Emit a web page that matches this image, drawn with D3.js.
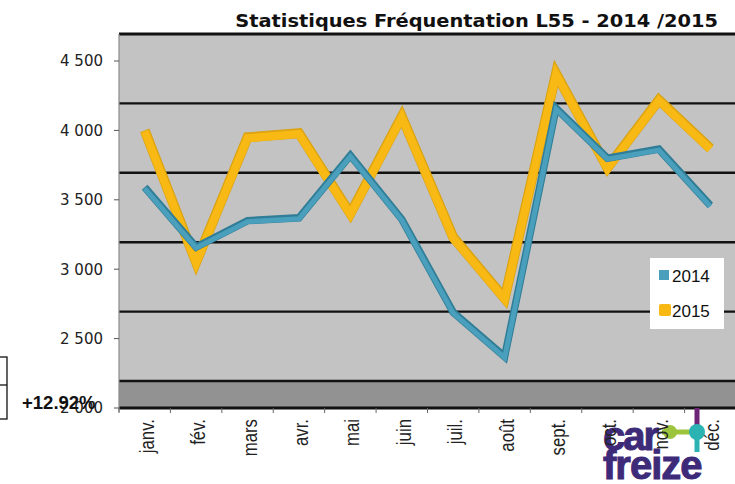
<!DOCTYPE html>
<html>
<head>
<meta charset="utf-8">
<script src="https://cdn.jsdelivr.net/npm/d3@7"></script>
<style>
  body { margin: 0; background: #fff; }
  svg { display: block; }
</style>
</head>
<body>
<svg id="chart" width="735" height="484"></svg>
<script>
var months = ["janv.", "fév.", "mars", "avr.", "mai", "juin", "juil.", "août", "sept.", "oct.", "nov.", "déc."];
var values2014 = [3590, 3160, 3350, 3370, 3820, 3360, 2690, 2370, 4160, 3800, 3865, 3460];
var values2015 = [4000, 3050, 3950, 3980, 3400, 4100, 3230, 2790, 4410, 3730, 4220, 3870];
var yTicks = [2000, 2500, 3000, 3500, 4000, 4500];
var seriesNames = ["2014", "2015"];

(function () {
    "use strict";
    var svg, x, y, depth, line, fr;

    svg = d3.select("#chart");
    fr = d3.formatLocale({decimal: ",", thousands: " ", grouping: [3], currency: ["", " €"]}).format(",d");

    x = d3.scaleBand().domain(months).range([119, 736]);
    y = d3.scaleLinear().domain([2000, 4500]).range([408, 61]);
    depth = 27; // back wall sits higher than the front axis (3d look)

    // back wall
    svg.append("rect")
        .attr("x", 119).attr("y", y(4500) - depth)
        .attr("width", 736 - 119).attr("height", y(2000) - y(4500) + depth)
        .attr("fill", "#c3c3c3");
    // floor
    svg.append("rect")
        .attr("x", 119).attr("y", y(2000) - depth)
        .attr("width", 736 - 119).attr("height", depth)
        .attr("fill", "#929292");

    svg.append("g").selectAll("line")
        .data(yTicks)
        .enter().append("line")
        .attr("x1", 119).attr("x2", 736)
        .attr("y1", function (d) { return y(d) - depth; })
        .attr("y2", function (d) { return y(d) - depth; })
        .attr("stroke", "#111")
        .attr("stroke-width", function (d) { return d === 4500 ? 3.2 : 2.4; });

    svg.append("line")
        .attr("x1", 119).attr("x2", 736)
        .attr("y1", y(2000)).attr("y2", y(2000))
        .attr("stroke", "#111").attr("stroke-width", 3);

    // left axis
    svg.append("line")
        .attr("x1", 119).attr("x2", 119)
        .attr("y1", y(4500) - depth).attr("y2", y(2000) + 4)
        .attr("stroke", "#8a8a8a").attr("stroke-width", 1.2);
    svg.append("g").selectAll("line")
        .data(yTicks)
        .enter().append("line")
        .attr("x1", 114).attr("x2", 119)
        .attr("y1", function (d) { return y(d); })
        .attr("y2", function (d) { return y(d); })
        .attr("stroke", "#555");
    svg.append("g").selectAll("text")
        .data(yTicks)
        .enter().append("text")
        .attr("x", 103)
        .attr("y", function (d) { return y(d); })
        .attr("dy", "0.36em")
        .attr("text-anchor", "end")
        .attr("font-family", "DejaVu Sans, Verdana, sans-serif")
        .attr("font-size", 15)
        .attr("fill", "#222")
        .text(function (d) { return fr(d); });

    // bottom ticks
    svg.append("g").selectAll("line")
        .data(months)
        .enter().append("line")
        .attr("x1", function (d) { return x(d); })
        .attr("x2", function (d) { return x(d); })
        .attr("y1", y(2000)).attr("y2", y(2000) + 5)
        .attr("stroke", "#666");

    // logo
    var logo = svg.append("g");
    logo.append("line").attr("x1", 697).attr("x2", 697).attr("y1", 408).attr("y2", 428)
        .attr("stroke", "#6d2477").attr("stroke-width", 5);
    logo.append("line").attr("x1", 697).attr("x2", 697).attr("y1", 432).attr("y2", 452)
        .attr("stroke", "#2bb3b3").attr("stroke-width", 5);
    logo.append("line").attr("x1", 662).attr("x2", 697).attr("y1", 432).attr("y2", 432)
        .attr("stroke", "#9cc43c").attr("stroke-width", 5);
    logo.append("circle").attr("cx", 670).attr("cy", 432).attr("r", 7).attr("fill", "#9cc43c");
    logo.append("circle").attr("cx", 697).attr("cy", 432).attr("r", 8).attr("fill", "#2bb3b3");
    logo.append("text").attr("x", 603).attr("y", 450)
        .attr("font-family", "Liberation Sans, Arial, sans-serif").attr("font-weight", "bold")
        .attr("font-size", 40).attr("letter-spacing", -2).attr("fill", "#3d2a78")
        .attr("stroke", "#3d2a78").attr("stroke-width", 1).text("car");
    logo.append("text").attr("x", 603).attr("y", 479)
        .attr("font-family", "Liberation Sans, Arial, sans-serif").attr("font-weight", "bold")
        .attr("font-size", 40).attr("letter-spacing", -1).attr("fill", "#3d2a78")
        .attr("stroke", "#3d2a78").attr("stroke-width", 1).text("freize");

    // month labels
    svg.append("g").selectAll("text")
        .data(months)
        .enter().append("text")
        .attr("transform", function (d) {
            return "translate(" + (x(d) + x.bandwidth() / 2 + 9) + ",419) rotate(-90) scale(0.84,1)";
        })
        .attr("text-anchor", "end")
        .attr("font-family", "Liberation Sans, Arial, sans-serif")
        .attr("font-size", 20)
        .attr("fill", "#222")
        .text(function (d) { return d; });

    // series
    line = d3.line()
        .x(function (d, i) { return x(months[i]) + x.bandwidth() / 2; })
        .y(function (d) { return y(d); })
        .curve(d3.curveLinear);

    svg.append("path").datum(values2015).attr("d", line)
        .attr("fill", "none").attr("stroke", "#dba30f").attr("stroke-width", 10)
        .attr("stroke-linejoin", "miter");
    svg.append("path").datum(values2015).attr("d", line)
        .attr("fill", "none").attr("stroke", "#f8b915").attr("stroke-width", 8)
        .attr("transform", "translate(0,0.8)");

    svg.append("path").datum(values2014).attr("d", line)
        .attr("fill", "none").attr("stroke", "#2f7d96").attr("stroke-width", 7.5);
    svg.append("path").datum(values2014).attr("d", line)
        .attr("fill", "none").attr("stroke", "#4a9fbc").attr("stroke-width", 5)
        .attr("transform", "translate(0,1)");

    // legend
    var legend = svg.append("g");
    legend.append("rect").attr("x", 650).attr("y", 258).attr("width", 74).attr("height", 71).attr("fill", "#fff");
    legend.selectAll("rect.key")
        .data(seriesNames)
        .enter().append("rect")
        .attr("class", "key")
        .attr("x", 659)
        .attr("y", function (d, i) { return 270 + i * 34; })
        .attr("width", function (d, i) { return i ? 12 : 10; })
        .attr("height", function (d, i) { return i ? 12 : 10; })
        .attr("rx", function (d, i) { return i ? 2 : 0; })
        .attr("fill", function (d, i) { return i ? "#f8b915" : "#4a9fbc"; });
    legend.selectAll("text")
        .data(seriesNames)
        .enter().append("text")
        .attr("x", 672)
        .attr("y", function (d, i) { return 282 + i * 35; })
        .attr("font-family", "Liberation Sans, Arial, sans-serif")
        .attr("font-size", 17)
        .attr("fill", "#111")
        .text(function (d) { return d; });

    // title
    svg.append("text")
        .attr("transform", "translate(718,27) scale(1,0.9)")
        .attr("text-anchor", "end")
        .attr("font-family", "DejaVu Sans, Verdana, sans-serif")
        .attr("font-weight", "bold")
        .attr("font-size", 19.4)
        .attr("fill", "#111")
        .text("Statistiques Fréquentation L55 - 2014 /2015");

    // side table fragment
    svg.append("rect").attr("x", -5).attr("y", 357).attr("width", 12).attr("height", 62)
        .attr("fill", "none").attr("stroke", "#111").attr("stroke-width", 1.3);
    svg.append("line").attr("x1", 0).attr("x2", 7).attr("y1", 385).attr("y2", 385)
        .attr("stroke", "#111").attr("stroke-width", 1.3);
    svg.append("text").attr("x", 22).attr("y", 409)
        .attr("font-family", "Liberation Sans, Arial, sans-serif").attr("font-weight", "bold")
        .attr("font-size", 18.5).attr("fill", "#111").text("+12.92%");
}());
</script>
</body>
</html>
